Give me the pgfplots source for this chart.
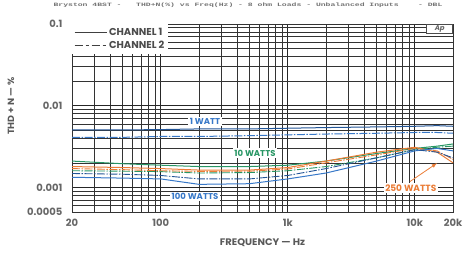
\documentclass[border=0pt]{standalone}
\usepackage{pgfplots}
\pgfplotsset{compat=1.18}
\usepackage{graphicx}
\usepackage{fontspec}
\setmainfont{Poppins}
\setmonofont{Liberation Mono}
\definecolor{wblue}{RGB}{35,85,150}
\definecolor{hblue}{RGB}{55,120,200}
\definecolor{tgreen}{RGB}{40,150,100}
\definecolor{qorange}{RGB}{235,125,55}
\begin{document}
\begin{tikzpicture}[x=1pt,y=1pt]
\path[use as bounding box] (-72,-47) rectangle (399,212);
\begin{axis}[
  at={(0,0)}, anchor=south west,
  scale only axis, width=381pt, height=188pt,
  xmode=log, ymode=log,
  xmin=20, xmax=20000, ymin=0.0005, ymax=0.1,
  xtick={20,100,1000,10000,20000},
  xticklabels={20,100,1k,10k,20k},
  minor xtick={30,40,50,60,70,80,90,200,300,400,500,600,700,800,900,2000,3000,4000,5000,6000,7000,8000,9000},
  ytick={0.0005,0.001,0.01,0.1},
  yticklabels={0.0005,0.001,0.01,0.1},
  minor ytick={0.0006,0.0007,0.0008,0.0009,0.002,0.003,0.004,0.005,0.006,0.007,0.008,0.009,0.02,0.03,0.04,0.05,0.06,0.07,0.08,0.09},
  /pgf/number format/assume math mode=true,
  tick label style={font=\bfseries\fontsize{10}{11}\selectfont, text=black!60},
  xticklabel style={yshift=-4pt},
  yticklabel style={xshift=-6pt},
  grid=both,
  major grid style={black!85, line width=0.7pt},
  minor grid style={black!80, line width=0.6pt},
  tick style={draw=none},
  axis line style={black!80, line width=0.8pt},
  xlabel={\scalebox{1.05}[1]{FREQUENCY — Hz}},
  xlabel style={font=\bfseries\fontsize{9.5}{10}\selectfont, text=black!65, yshift=-5pt},
  ylabel={\scalebox{1.05}[1]{THD + N — \%}},
  ylabel style={font=\bfseries\fontsize{9}{10}\selectfont, text=black!65, yshift=6pt, xshift=12pt},
  legend style={at={(0,1)}, anchor=north west, draw=none, fill=white,
    font=\bfseries\fontsize{10}{11}\selectfont, text=black!70,
    row sep=0pt, inner sep=2pt},
  legend cell align=left,
  legend image code/.code={\draw[#1] (0pt,0pt) -- (32pt,0pt);},
  legend image post style={black!75, line width=0.8pt},
]
\addlegendimage{solid}
\addlegendentry{CHANNEL 1}
\addlegendimage{dash pattern=on 8pt off 3pt on 3pt off 3pt}
\addlegendentry{CHANNEL 2}
\pgfplotsset{ch2/.style={dash pattern=on 8pt off 1.5pt on 1.5pt off 1.5pt}}
% 1 W
\addplot[wblue, line width=1pt, forget plot] coordinates {
(20,0.00505) (50,0.00505) (100,0.0051) (200,0.0052) (500,0.0052) (1000,0.0053) (2000,0.0054) (5000,0.0055) (10000,0.0056) (15000,0.0057) (20000,0.0056)};
\addplot[hblue, line width=1pt, ch2, forget plot] coordinates {
(20,0.0041) (50,0.0041) (100,0.0042) (200,0.0042) (500,0.0043) (1000,0.0044) (2000,0.0045) (5000,0.0046) (10000,0.0047) (15000,0.0047) (20000,0.0046)};
% 10 W
\addplot[tgreen, line width=1pt, forget plot] coordinates {
(20,0.0021) (50,0.00195) (100,0.00187) (200,0.0018) (500,0.0018) (1000,0.00187) (2000,0.0021) (5000,0.0026) (10000,0.0030) (15000,0.0032) (20000,0.0034)};
\addplot[tgreen, line width=0.9pt, ch2, forget plot] coordinates {
(20,0.0016) (50,0.00158) (100,0.00156) (200,0.0015) (500,0.00152) (1000,0.0016) (2000,0.0018) (5000,0.0023) (10000,0.0029) (15000,0.0031) (20000,0.0032)};
% 250 W
\addplot[qorange, line width=1pt, forget plot] coordinates {
(20,0.0018) (50,0.00175) (100,0.0017) (200,0.00163) (500,0.00163) (1000,0.00175) (2000,0.0021) (5000,0.0027) (10000,0.0031) (15000,0.0027) (20000,0.0020)};
\addplot[qorange, line width=0.9pt, ch2, forget plot] coordinates {
(20,0.0017) (50,0.00165) (100,0.0016) (200,0.00157) (500,0.00158) (1000,0.00168) (2000,0.0020) (5000,0.0025) (10000,0.0030) (15000,0.0028) (20000,0.0022)};
% 100 W
\addplot[hblue, line width=1pt, forget plot] coordinates {
(20,0.00133) (50,0.0013) (100,0.00127) (200,0.00109) (500,0.00111) (1000,0.00127) (2000,0.00150) (5000,0.0021) (10000,0.0028) (15000,0.0030) (20000,0.0028)};
\addplot[wblue, line width=0.9pt, ch2, forget plot] coordinates {
(20,0.00148) (50,0.00145) (100,0.0014) (200,0.00127) (500,0.00127) (1000,0.0014) (2000,0.0017) (5000,0.0023) (10000,0.0029) (15000,0.0027) (20000,0.0023)};
% labels
\node[fill=white, inner sep=1.5pt, text=hblue, font=\bfseries\fontsize{8.5}{10}\selectfont] at (axis cs:223,0.0064) {1 WATT};
\node[fill=white, inner sep=1.5pt, text=tgreen, font=\bfseries\fontsize{8.5}{10}\selectfont] at (axis cs:552,0.00263) {10 WATTS};
\node[fill=white, inner sep=1.5pt, text=hblue, font=\bfseries\fontsize{8.5}{10}\selectfont] at (axis cs:186,0.00077) {100 WATTS};
\node[fill=white, inner sep=1.5pt, text=qorange, font=\bfseries\fontsize{9}{10}\selectfont] at (axis cs:9300,0.00098) {250 WATTS};
\draw[qorange, line width=0.8pt, -latex] (axis cs:9170,0.00118) -- (axis cs:14960,0.00198);
\node[draw=black!70, fill=white, line width=0.6pt, anchor=north east, inner sep=1pt, minimum width=26pt, minimum height=9pt, align=right, text=black!60, font=\bfseries\itshape\fontsize{7}{8}\selectfont] at (rel axis cs:1,1) {\hfill Ap};
\end{axis}
\node[anchor=center, text=black!55] at (176,207) {\scalebox{1.62}[1]{\ttfamily\bfseries\fontsize{5}{6}\selectfont Bryston 4BST -\ \ \ THD+N(\%) vs Freq(Hz) - 8 ohm Loads - Unbalanced Inputs\ \ \ \ - DBL}};
\end{tikzpicture}
\end{document}
